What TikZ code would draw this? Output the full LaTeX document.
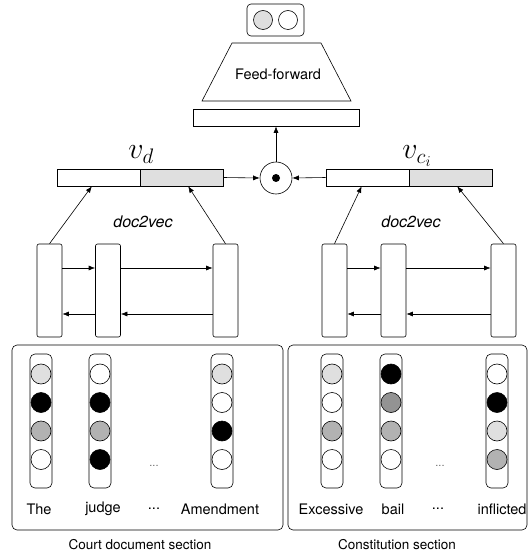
\RequirePackage{fix-cm}
\documentclass[tikz,border=0pt]{standalone}
\usepackage{fontspec}
\setmainfont{TeX Gyre Heros}
\setsansfont{TeX Gyre Heros}
\usetikzlibrary{arrows.meta,positioning,calc}

\begin{document}
\begin{tikzpicture}[
  x=1pt, y=-1pt,
  font=\sffamily\fontsize{14.5}{17}\selectfont,
  every node/.style={inner sep=0pt},
  vec/.style={draw=black, minimum width=83pt, minimum height=17pt, line width=0.6pt},
  lstm/.style={draw=black, rounded corners=2pt, minimum width=25pt, minimum height=93pt, line width=0.6pt},
  col/.style={draw=black, rounded corners=5pt, minimum width=22pt, minimum height=134pt, line width=0.6pt},
  sect/.style={draw=black, rounded corners=5pt, minimum height=185pt, line width=0.6pt},
  unit/.style={circle, draw=black, minimum size=20pt, line width=0.6pt},
  word/.style={font=\sffamily\fontsize{14.5}{17}\selectfont},
  sectlbl/.style={font=\sffamily\fontsize{13.5}{16}\selectfont},
  vname/.style={anchor=base, font=\fontsize{30}{34}\selectfont},
  flow/.style={-{Latex[length=6.5pt, width=5pt]}, line width=0.6pt, draw=black},
  feed/.style={line width=0.6pt, draw=black},
]
\useasboundingbox (0,0) rectangle (530,553);

% ===== OUTPUT LAYER =====
\node[draw=black, rounded corners=4pt, minimum width=57pt, minimum height=32pt, line width=0.6pt] (out) at (275.5,20) {};
\node[unit, minimum size=19pt, fill=gray!25] (o1) at (263,20) {};
\node[unit, minimum size=19pt] (o2) at (288,20) {};

% ===== FEED-FORWARD =====
\draw[feed] (202,101) -- (232,43) -- (321,43) -- (351,101) -- cycle;
\node (ff) at (278,74) {Feed-forward};
\node[draw=black, minimum width=166pt, minimum height=17pt, line width=0.6pt] (hid) at (276,117.5) {};

% ===== COMBINATION =====
\node[circle, draw=black, minimum size=32pt, line width=0.6pt] (prod) at (276,178) {};
\node[circle, fill=black, minimum size=8pt] (dot) at (prod.center) {};

% ===== SECTION VECTORS =====
\node[vec] (vdl) at (98.5,177.5) {};
\node[vec, fill=gray!25] (vdr) at (181.5,177.5) {};
\node[vname] (vd) at (141,159) {$v_d$};
\node[vec] (vcl) at (367.5,177.5) {};
\node[vec, fill=gray!25] (vcr) at (450.5,177.5) {};
\node[vname] (vc) at (417,159) {$v_{c_i}$};

\draw[flow] (vdr.east) -- (prod.west);
\draw[flow] (vcl.west) -- (prod.east);
\draw[flow] (prod.north) -- (hid.south);

% ===== BI-DIRECTIONAL ENCODERS =====
\node[lstm] (b1) at (49.5,290.5) {};
\node[lstm] (b2) at (108,290.5) {};
\node[lstm] (b3) at (225.5,290.5) {};
\node[lstm] (b4) at (334.5,290.5) {};
\node[lstm] (b5) at (393.5,290.5) {};
\node[lstm] (b6) at (503.5,290.5) {};
\node[font=\sffamily\itshape\fontsize{16}{19}\selectfont] (d2v1) at (143,222) {doc2vec};
\node[font=\sffamily\itshape\fontsize{16}{19}\selectfont] (d2v2) at (411,222) {doc2vec};

\draw[flow] (b1.north) -- ($(vdl.south west)!0.42!(vdl.south east)$);
\draw[flow] (b3.north) -- ($(vdr.south west)!0.58!(vdr.south east)$);
\draw[flow] (b4.north) -- ($(vcl.south west)!0.43!(vcl.south east)$);
\draw[flow] (b6.north) -- ($(vcr.south west)!0.58!(vcr.south east)$);

\foreach \a/\b in {b1/b2, b2/b3, b4/b5, b5/b6} {
  \draw[flow] ($(\a.east)+(0,-22.5)$) -- ($(\b.west)+(0,-22.5)$);
  \draw[flow] ($(\b.west)+(0,23.5)$) -- ($(\a.east)+(0,23.5)$);
}

% ===== INPUT SECTIONS =====
\node[sect, minimum width=271pt] (court) at (147.5,437.5) {};
\node[sect, minimum width=239pt] (const) at (407.5,437.5) {};
\node[sectlbl] (capl) at (140,545) {Court document section};
\node[sectlbl] (capr) at (397,545) {Constitution section};

% ===== WORD VECTORS =====
\foreach \n/\x/\ca/\cb/\cc/\cd in {
  c1/41/gray!25/black/gray!60/white,
  c2/100/white/black/gray!60/black,
  c3/222/gray!25/white/black/white,
  c4/332/gray!25/white/gray!60/white,
  c5/391/black/gray!85/gray!60/white,
  c6/497/white/black/gray!25/gray!60} {
  \node[col] (\n) at (\x,421) {};
  \node[unit, fill=\ca] (\n-1) at (\x,374) {};
  \node[unit, fill=\cb] (\n-2) at (\x,402.5) {};
  \node[unit, fill=\cc] (\n-3) at (\x,431) {};
  \node[unit, fill=\cd] (\n-4) at (\x,459.5) {};
}
\node[text=gray!80!black, font=\sffamily\fontsize{11}{13}\selectfont] (skl) at (154,466) {...};
\node[text=gray!80!black, font=\sffamily\fontsize{11}{13}\selectfont] (skr) at (440,466) {...};

\node[word] (w1) at (39,509) {The};
\node[word] (w2) at (103,509) {judge};
\node[word] (w3) at (154,509) {...};
\node[word] (w4) at (220,509) {Amendment};
\node[word] (w5) at (331,509) {Excessive};
\node[word] (w6) at (393,509) {bail};
\node[word] (w7) at (438,509) {...};
\node[word] (w8) at (502,509) {inflicted};

\end{tikzpicture}
\end{document}
